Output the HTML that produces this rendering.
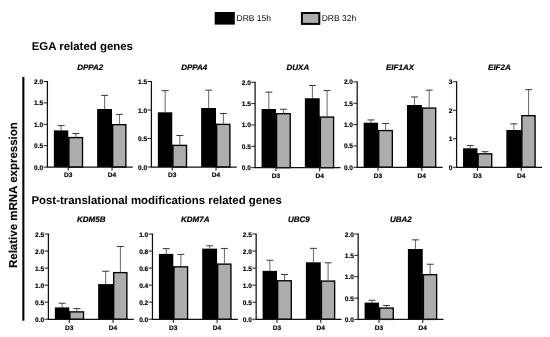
<!DOCTYPE html>
<html><head><meta charset="utf-8"><title>Relative mRNA expression</title>
<style>
html,body{margin:0;padding:0;background:#fff;}
body{width:550px;height:337px;overflow:hidden;font-family:"Liberation Sans",sans-serif;}
svg{display:block;font-family:"Liberation Sans",sans-serif;fill:#000;text-rendering:geometricPrecision;filter:grayscale(1);}
.b{stroke:#000;stroke-width:0.18px;}
.bi{stroke:#000;stroke-width:0.2px;}
.bt{stroke:#000;stroke-width:0.12px;}
</style></head>
<body>
<svg width="550" height="337" viewBox="0 0 550 337">
<!-- legend -->
<rect x="214.7" y="12.0" width="20.1" height="12.6" fill="#000"/>
<text x="236.5" y="20.95" font-size="8.5">DRB 15h</text>
<rect x="301.9" y="13.0" width="17.4" height="10.9" fill="#adadad" stroke="#000" stroke-width="2"/>
<text x="321.7" y="20.95" font-size="8.5">DRB 32h</text>
<!-- section titles -->
<text x="31.7" y="50.0" font-size="11.45" font-weight="bold">EGA related genes</text>
<text x="31.45" y="204.0" font-size="11.42" font-weight="bold">Post-translational modifications related genes</text>
<!-- y label -->
<rect x="22.3" y="77" width="2.1" height="243.7" fill="#000"/>
<text transform="translate(16.9 195.1) rotate(-90)" text-anchor="middle" font-size="11.5" font-weight="bold" class="bt">Relative mRNA expression</text>
<g>
<text x="90.2" y="69.85" text-anchor="middle" font-size="8.0" font-weight="bold" font-style="italic" class="bi">DPPA2</text>
<path d="M61.15 130.40V125.60" stroke="#555" stroke-width="0.9" fill="none"/>
<path d="M57.65 125.60H64.65" stroke="#2e2e2e" stroke-width="0.95" fill="none"/>
<path d="M75.82 136.90V133.55" stroke="#555" stroke-width="0.9" fill="none"/>
<path d="M72.32 133.55H79.32" stroke="#2e2e2e" stroke-width="0.95" fill="none"/>
<path d="M104.67 109.00V95.40" stroke="#555" stroke-width="0.9" fill="none"/>
<path d="M101.17 95.40H108.17" stroke="#2e2e2e" stroke-width="0.95" fill="none"/>
<path d="M119.38 124.00V114.35" stroke="#555" stroke-width="0.9" fill="none"/>
<path d="M115.88 114.35H122.88" stroke="#2e2e2e" stroke-width="0.95" fill="none"/>
<rect x="53.85" y="130.40" width="14.40" height="36.65" fill="#000"/>
<rect x="67.75" y="136.90" width="1.1" height="30.15" fill="#000"/>
<rect x="68.92" y="137.58" width="13.60" height="29.48" fill="#adadad" stroke="#000" stroke-width="1.35"/>
<rect x="97.15" y="109.00" width="14.85" height="58.05" fill="#000"/>
<rect x="111.50" y="124.00" width="1.1" height="43.05" fill="#000"/>
<rect x="112.67" y="124.67" width="13.20" height="42.38" fill="#adadad" stroke="#000" stroke-width="1.35"/>
<path d="M47.40 80.88V167.05M46.77 167.05H132.80" stroke="#111" stroke-width="1.25" fill="none"/>
<path d="M43.57 167.05H47.40" stroke="#111" stroke-width="0.95"/>
<text x="43.20" y="169.55" text-anchor="end" font-size="6.55" font-weight="bold" class="b">0.0</text>
<path d="M43.57 145.66H47.40" stroke="#111" stroke-width="0.95"/>
<text x="43.20" y="148.16" text-anchor="end" font-size="6.55" font-weight="bold" class="b">0.5</text>
<path d="M43.57 124.28H47.40" stroke="#111" stroke-width="0.95"/>
<text x="43.20" y="126.78" text-anchor="end" font-size="6.55" font-weight="bold" class="b">1.0</text>
<path d="M43.57 102.89H47.40" stroke="#111" stroke-width="0.95"/>
<text x="43.20" y="105.39" text-anchor="end" font-size="6.55" font-weight="bold" class="b">1.5</text>
<path d="M43.57 81.50H47.40" stroke="#111" stroke-width="0.95"/>
<text x="43.20" y="84.00" text-anchor="end" font-size="6.55" font-weight="bold" class="b">2.0</text>
<path d="M68.25 167.05V170.60" stroke="#111" stroke-width="1.0"/>
<text x="68.25" y="177.30" text-anchor="middle" font-size="6.55" font-weight="bold" class="b">D3</text>
<path d="M112.00 167.05V170.60" stroke="#111" stroke-width="1.0"/>
<text x="112.00" y="177.30" text-anchor="middle" font-size="6.55" font-weight="bold" class="b">D4</text>
</g>
<g>
<text x="194.2" y="69.75" text-anchor="middle" font-size="8.0" font-weight="bold" font-style="italic" class="bi">DPPA4</text>
<path d="M165.15 112.30V90.65" stroke="#555" stroke-width="0.9" fill="none"/>
<path d="M161.65 90.65H168.65" stroke="#2e2e2e" stroke-width="0.95" fill="none"/>
<path d="M179.82 144.70V135.50" stroke="#555" stroke-width="0.9" fill="none"/>
<path d="M176.32 135.50H183.32" stroke="#2e2e2e" stroke-width="0.95" fill="none"/>
<path d="M208.67 108.00V90.15" stroke="#555" stroke-width="0.9" fill="none"/>
<path d="M205.17 90.15H212.17" stroke="#2e2e2e" stroke-width="0.95" fill="none"/>
<path d="M223.38 123.70V113.55" stroke="#555" stroke-width="0.9" fill="none"/>
<path d="M219.88 113.55H226.88" stroke="#2e2e2e" stroke-width="0.95" fill="none"/>
<rect x="157.85" y="112.30" width="14.40" height="54.70" fill="#000"/>
<rect x="171.75" y="144.70" width="1.1" height="22.30" fill="#000"/>
<rect x="172.93" y="145.38" width="13.60" height="21.63" fill="#adadad" stroke="#000" stroke-width="1.35"/>
<rect x="201.15" y="108.00" width="14.85" height="59.00" fill="#000"/>
<rect x="215.50" y="123.70" width="1.1" height="43.30" fill="#000"/>
<rect x="216.68" y="124.38" width="13.20" height="42.62" fill="#adadad" stroke="#000" stroke-width="1.35"/>
<path d="M151.40 80.88V167.00M150.78 167.00H236.80" stroke="#111" stroke-width="1.25" fill="none"/>
<path d="M147.58 167.00H151.40" stroke="#111" stroke-width="0.95"/>
<text x="147.20" y="169.50" text-anchor="end" font-size="6.55" font-weight="bold" class="b">0.0</text>
<path d="M147.58 138.50H151.40" stroke="#111" stroke-width="0.95"/>
<text x="147.20" y="141.00" text-anchor="end" font-size="6.55" font-weight="bold" class="b">0.5</text>
<path d="M147.58 110.00H151.40" stroke="#111" stroke-width="0.95"/>
<text x="147.20" y="112.50" text-anchor="end" font-size="6.55" font-weight="bold" class="b">1.0</text>
<path d="M147.58 81.50H151.40" stroke="#111" stroke-width="0.95"/>
<text x="147.20" y="84.00" text-anchor="end" font-size="6.55" font-weight="bold" class="b">1.5</text>
<path d="M172.25 167.00V170.55" stroke="#111" stroke-width="1.0"/>
<text x="172.25" y="177.25" text-anchor="middle" font-size="6.55" font-weight="bold" class="b">D3</text>
<path d="M216.00 167.00V170.55" stroke="#111" stroke-width="1.0"/>
<text x="216.00" y="177.25" text-anchor="middle" font-size="6.55" font-weight="bold" class="b">D4</text>
</g>
<g>
<text x="297.9" y="69.75" text-anchor="middle" font-size="8.0" font-weight="bold" font-style="italic" class="bi">DUXA</text>
<path d="M268.85 109.00V92.10" stroke="#555" stroke-width="0.9" fill="none"/>
<path d="M265.35 92.10H272.35" stroke="#2e2e2e" stroke-width="0.95" fill="none"/>
<path d="M283.53 113.00V109.25" stroke="#555" stroke-width="0.9" fill="none"/>
<path d="M280.03 109.25H287.03" stroke="#2e2e2e" stroke-width="0.95" fill="none"/>
<path d="M312.38 98.25V85.50" stroke="#555" stroke-width="0.9" fill="none"/>
<path d="M308.88 85.50H315.88" stroke="#2e2e2e" stroke-width="0.95" fill="none"/>
<path d="M327.08 116.40V90.55" stroke="#555" stroke-width="0.9" fill="none"/>
<path d="M323.58 90.55H330.58" stroke="#2e2e2e" stroke-width="0.95" fill="none"/>
<rect x="261.55" y="109.00" width="14.40" height="58.65" fill="#000"/>
<rect x="275.45" y="113.00" width="1.1" height="54.65" fill="#000"/>
<rect x="276.62" y="113.67" width="13.60" height="53.98" fill="#adadad" stroke="#000" stroke-width="1.35"/>
<rect x="304.85" y="98.25" width="14.85" height="69.40" fill="#000"/>
<rect x="319.20" y="116.40" width="1.1" height="51.25" fill="#000"/>
<rect x="320.38" y="117.08" width="13.20" height="50.58" fill="#adadad" stroke="#000" stroke-width="1.35"/>
<path d="M255.10 81.67V167.65M254.47 167.65H340.50" stroke="#111" stroke-width="1.25" fill="none"/>
<path d="M251.28 167.65H255.10" stroke="#111" stroke-width="0.95"/>
<text x="250.90" y="170.15" text-anchor="end" font-size="6.55" font-weight="bold" class="b">0.0</text>
<path d="M251.28 146.31H255.10" stroke="#111" stroke-width="0.95"/>
<text x="250.90" y="148.81" text-anchor="end" font-size="6.55" font-weight="bold" class="b">0.5</text>
<path d="M251.28 124.97H255.10" stroke="#111" stroke-width="0.95"/>
<text x="250.90" y="127.47" text-anchor="end" font-size="6.55" font-weight="bold" class="b">1.0</text>
<path d="M251.28 103.64H255.10" stroke="#111" stroke-width="0.95"/>
<text x="250.90" y="106.14" text-anchor="end" font-size="6.55" font-weight="bold" class="b">1.5</text>
<path d="M251.28 82.30H255.10" stroke="#111" stroke-width="0.95"/>
<text x="250.90" y="84.80" text-anchor="end" font-size="6.55" font-weight="bold" class="b">2.0</text>
<path d="M275.95 167.65V171.20" stroke="#111" stroke-width="1.0"/>
<text x="275.95" y="177.90" text-anchor="middle" font-size="6.55" font-weight="bold" class="b">D3</text>
<path d="M319.70 167.65V171.20" stroke="#111" stroke-width="1.0"/>
<text x="319.70" y="177.90" text-anchor="middle" font-size="6.55" font-weight="bold" class="b">D4</text>
</g>
<g>
<text x="400.0" y="69.75" text-anchor="middle" font-size="8.0" font-weight="bold" font-style="italic" class="bi">EIF1AX</text>
<path d="M370.95 122.70V119.95" stroke="#555" stroke-width="0.9" fill="none"/>
<path d="M367.45 119.95H374.45" stroke="#2e2e2e" stroke-width="0.95" fill="none"/>
<path d="M385.62 129.90V123.55" stroke="#555" stroke-width="0.9" fill="none"/>
<path d="M382.12 123.55H389.12" stroke="#2e2e2e" stroke-width="0.95" fill="none"/>
<path d="M414.48 105.00V96.95" stroke="#555" stroke-width="0.9" fill="none"/>
<path d="M410.98 96.95H417.98" stroke="#2e2e2e" stroke-width="0.95" fill="none"/>
<path d="M429.18 107.40V90.15" stroke="#555" stroke-width="0.9" fill="none"/>
<path d="M425.68 90.15H432.68" stroke="#2e2e2e" stroke-width="0.95" fill="none"/>
<rect x="363.65" y="122.70" width="14.40" height="44.55" fill="#000"/>
<rect x="377.55" y="129.90" width="1.1" height="37.35" fill="#000"/>
<rect x="378.73" y="130.58" width="13.60" height="36.67" fill="#adadad" stroke="#000" stroke-width="1.35"/>
<rect x="406.95" y="105.00" width="14.85" height="62.25" fill="#000"/>
<rect x="421.30" y="107.40" width="1.1" height="59.85" fill="#000"/>
<rect x="422.47" y="108.08" width="13.20" height="59.17" fill="#adadad" stroke="#000" stroke-width="1.35"/>
<path d="M357.20 81.28V167.25M356.57 167.25H442.60" stroke="#111" stroke-width="1.25" fill="none"/>
<path d="M353.38 167.25H357.20" stroke="#111" stroke-width="0.95"/>
<text x="353.00" y="169.75" text-anchor="end" font-size="6.55" font-weight="bold" class="b">0.0</text>
<path d="M353.38 145.91H357.20" stroke="#111" stroke-width="0.95"/>
<text x="353.00" y="148.41" text-anchor="end" font-size="6.55" font-weight="bold" class="b">0.5</text>
<path d="M353.38 124.58H357.20" stroke="#111" stroke-width="0.95"/>
<text x="353.00" y="127.08" text-anchor="end" font-size="6.55" font-weight="bold" class="b">1.0</text>
<path d="M353.38 103.24H357.20" stroke="#111" stroke-width="0.95"/>
<text x="353.00" y="105.74" text-anchor="end" font-size="6.55" font-weight="bold" class="b">1.5</text>
<path d="M353.38 81.90H357.20" stroke="#111" stroke-width="0.95"/>
<text x="353.00" y="84.40" text-anchor="end" font-size="6.55" font-weight="bold" class="b">2.0</text>
<path d="M378.05 167.25V170.80" stroke="#111" stroke-width="1.0"/>
<text x="378.05" y="177.50" text-anchor="middle" font-size="6.55" font-weight="bold" class="b">D3</text>
<path d="M421.80 167.25V170.80" stroke="#111" stroke-width="1.0"/>
<text x="421.80" y="177.50" text-anchor="middle" font-size="6.55" font-weight="bold" class="b">D4</text>
</g>
<g>
<text x="499.4" y="69.75" text-anchor="middle" font-size="8.0" font-weight="bold" font-style="italic" class="bi">EIF2A</text>
<path d="M470.35 148.30V145.60" stroke="#555" stroke-width="0.9" fill="none"/>
<path d="M466.85 145.60H473.85" stroke="#2e2e2e" stroke-width="0.95" fill="none"/>
<path d="M485.03 153.15V151.70" stroke="#555" stroke-width="0.9" fill="none"/>
<path d="M481.53 151.70H488.53" stroke="#2e2e2e" stroke-width="0.95" fill="none"/>
<path d="M513.88 130.00V123.85" stroke="#555" stroke-width="0.9" fill="none"/>
<path d="M510.38 123.85H517.38" stroke="#2e2e2e" stroke-width="0.95" fill="none"/>
<path d="M528.58 115.00V89.65" stroke="#555" stroke-width="0.9" fill="none"/>
<path d="M525.08 89.65H532.08" stroke="#2e2e2e" stroke-width="0.95" fill="none"/>
<rect x="463.05" y="148.30" width="14.40" height="18.95" fill="#000"/>
<rect x="476.95" y="153.15" width="1.1" height="14.10" fill="#000"/>
<rect x="478.13" y="153.83" width="13.60" height="13.42" fill="#adadad" stroke="#000" stroke-width="1.35"/>
<rect x="506.35" y="130.00" width="14.85" height="37.25" fill="#000"/>
<rect x="520.70" y="130.00" width="1.1" height="37.25" fill="#000"/>
<rect x="521.88" y="115.67" width="13.20" height="51.58" fill="#adadad" stroke="#000" stroke-width="1.35"/>
<path d="M456.60 81.17V167.25M455.98 167.25H542.00" stroke="#111" stroke-width="1.25" fill="none"/>
<path d="M452.78 167.25H456.60" stroke="#111" stroke-width="0.95"/>
<text x="452.40" y="169.75" text-anchor="end" font-size="6.55" font-weight="bold" class="b">0</text>
<path d="M452.78 138.77H456.60" stroke="#111" stroke-width="0.95"/>
<text x="452.40" y="141.27" text-anchor="end" font-size="6.55" font-weight="bold" class="b">1</text>
<path d="M452.78 110.28H456.60" stroke="#111" stroke-width="0.95"/>
<text x="452.40" y="112.78" text-anchor="end" font-size="6.55" font-weight="bold" class="b">2</text>
<path d="M452.78 81.80H456.60" stroke="#111" stroke-width="0.95"/>
<text x="452.40" y="84.30" text-anchor="end" font-size="6.55" font-weight="bold" class="b">3</text>
<path d="M477.45 167.25V170.80" stroke="#111" stroke-width="1.0"/>
<text x="477.45" y="177.50" text-anchor="middle" font-size="6.55" font-weight="bold" class="b">D3</text>
<path d="M521.20 167.25V170.80" stroke="#111" stroke-width="1.0"/>
<text x="521.20" y="177.50" text-anchor="middle" font-size="6.55" font-weight="bold" class="b">D4</text>
</g>
<g>
<text x="91.2" y="222.15" text-anchor="middle" font-size="8.0" font-weight="bold" font-style="italic" class="bi">KDM5B</text>
<path d="M62.15 307.40V303.25" stroke="#555" stroke-width="0.9" fill="none"/>
<path d="M58.65 303.25H65.65" stroke="#2e2e2e" stroke-width="0.95" fill="none"/>
<path d="M76.82 311.20V308.60" stroke="#555" stroke-width="0.9" fill="none"/>
<path d="M73.32 308.60H80.32" stroke="#2e2e2e" stroke-width="0.95" fill="none"/>
<path d="M105.67 284.10V271.25" stroke="#555" stroke-width="0.9" fill="none"/>
<path d="M102.17 271.25H109.17" stroke="#2e2e2e" stroke-width="0.95" fill="none"/>
<path d="M120.38 271.95V246.50" stroke="#555" stroke-width="0.9" fill="none"/>
<path d="M116.88 246.50H123.88" stroke="#2e2e2e" stroke-width="0.95" fill="none"/>
<rect x="54.85" y="307.40" width="14.40" height="11.85" fill="#000"/>
<rect x="68.75" y="311.20" width="1.1" height="8.05" fill="#000"/>
<rect x="69.92" y="311.88" width="13.60" height="7.38" fill="#adadad" stroke="#000" stroke-width="1.35"/>
<rect x="98.15" y="284.10" width="14.85" height="35.15" fill="#000"/>
<rect x="112.50" y="284.10" width="1.1" height="35.15" fill="#000"/>
<rect x="113.67" y="272.62" width="13.20" height="46.63" fill="#adadad" stroke="#000" stroke-width="1.35"/>
<path d="M48.40 233.38V319.25M47.77 319.25H133.80" stroke="#111" stroke-width="1.25" fill="none"/>
<path d="M44.57 319.25H48.40" stroke="#111" stroke-width="0.95"/>
<text x="44.20" y="321.75" text-anchor="end" font-size="6.55" font-weight="bold" class="b">0.0</text>
<path d="M44.57 302.20H48.40" stroke="#111" stroke-width="0.95"/>
<text x="44.20" y="304.70" text-anchor="end" font-size="6.55" font-weight="bold" class="b">0.5</text>
<path d="M44.57 285.15H48.40" stroke="#111" stroke-width="0.95"/>
<text x="44.20" y="287.65" text-anchor="end" font-size="6.55" font-weight="bold" class="b">1.0</text>
<path d="M44.57 268.10H48.40" stroke="#111" stroke-width="0.95"/>
<text x="44.20" y="270.60" text-anchor="end" font-size="6.55" font-weight="bold" class="b">1.5</text>
<path d="M44.57 251.05H48.40" stroke="#111" stroke-width="0.95"/>
<text x="44.20" y="253.55" text-anchor="end" font-size="6.55" font-weight="bold" class="b">2.0</text>
<path d="M44.57 234.00H48.40" stroke="#111" stroke-width="0.95"/>
<text x="44.20" y="236.50" text-anchor="end" font-size="6.55" font-weight="bold" class="b">2.5</text>
<path d="M69.25 319.25V322.80" stroke="#111" stroke-width="1.0"/>
<text x="69.25" y="330.10" text-anchor="middle" font-size="6.55" font-weight="bold" class="b">D3</text>
<path d="M113.00 319.25V322.80" stroke="#111" stroke-width="1.0"/>
<text x="113.00" y="330.10" text-anchor="middle" font-size="6.55" font-weight="bold" class="b">D4</text>
</g>
<g>
<text x="195.2" y="222.15" text-anchor="middle" font-size="8.0" font-weight="bold" font-style="italic" class="bi">KDM7A</text>
<path d="M166.20 253.90V248.65" stroke="#555" stroke-width="0.9" fill="none"/>
<path d="M162.70 248.65H169.70" stroke="#2e2e2e" stroke-width="0.95" fill="none"/>
<path d="M180.87 266.15V254.45" stroke="#555" stroke-width="0.9" fill="none"/>
<path d="M177.37 254.45H184.37" stroke="#2e2e2e" stroke-width="0.95" fill="none"/>
<path d="M209.72 248.65V245.80" stroke="#555" stroke-width="0.9" fill="none"/>
<path d="M206.22 245.80H213.22" stroke="#2e2e2e" stroke-width="0.95" fill="none"/>
<path d="M224.42 263.45V248.45" stroke="#555" stroke-width="0.9" fill="none"/>
<path d="M220.92 248.45H227.92" stroke="#2e2e2e" stroke-width="0.95" fill="none"/>
<rect x="158.90" y="253.90" width="14.40" height="65.35" fill="#000"/>
<rect x="172.80" y="266.15" width="1.1" height="53.10" fill="#000"/>
<rect x="173.97" y="266.83" width="13.60" height="52.42" fill="#adadad" stroke="#000" stroke-width="1.35"/>
<rect x="202.20" y="248.65" width="14.85" height="70.60" fill="#000"/>
<rect x="216.55" y="263.45" width="1.1" height="55.80" fill="#000"/>
<rect x="217.72" y="264.12" width="13.20" height="55.13" fill="#adadad" stroke="#000" stroke-width="1.35"/>
<path d="M152.45 233.38V319.25M151.82 319.25H237.85" stroke="#111" stroke-width="1.25" fill="none"/>
<path d="M148.62 319.25H152.45" stroke="#111" stroke-width="0.95"/>
<text x="148.25" y="321.75" text-anchor="end" font-size="6.55" font-weight="bold" class="b">0.0</text>
<path d="M148.62 302.20H152.45" stroke="#111" stroke-width="0.95"/>
<text x="148.25" y="304.70" text-anchor="end" font-size="6.55" font-weight="bold" class="b">0.2</text>
<path d="M148.62 285.15H152.45" stroke="#111" stroke-width="0.95"/>
<text x="148.25" y="287.65" text-anchor="end" font-size="6.55" font-weight="bold" class="b">0.4</text>
<path d="M148.62 268.10H152.45" stroke="#111" stroke-width="0.95"/>
<text x="148.25" y="270.60" text-anchor="end" font-size="6.55" font-weight="bold" class="b">0.6</text>
<path d="M148.62 251.05H152.45" stroke="#111" stroke-width="0.95"/>
<text x="148.25" y="253.55" text-anchor="end" font-size="6.55" font-weight="bold" class="b">0.8</text>
<path d="M148.62 234.00H152.45" stroke="#111" stroke-width="0.95"/>
<text x="148.25" y="236.50" text-anchor="end" font-size="6.55" font-weight="bold" class="b">1.0</text>
<path d="M173.30 319.25V322.80" stroke="#111" stroke-width="1.0"/>
<text x="173.30" y="330.10" text-anchor="middle" font-size="6.55" font-weight="bold" class="b">D3</text>
<path d="M217.05 319.25V322.80" stroke="#111" stroke-width="1.0"/>
<text x="217.05" y="330.10" text-anchor="middle" font-size="6.55" font-weight="bold" class="b">D4</text>
</g>
<g>
<text x="298.9" y="222.15" text-anchor="middle" font-size="8.0" font-weight="bold" font-style="italic" class="bi">UBC9</text>
<path d="M269.90 270.85V260.25" stroke="#555" stroke-width="0.9" fill="none"/>
<path d="M266.40 260.25H273.40" stroke="#2e2e2e" stroke-width="0.95" fill="none"/>
<path d="M284.57 280.10V274.50" stroke="#555" stroke-width="0.9" fill="none"/>
<path d="M281.07 274.50H288.07" stroke="#2e2e2e" stroke-width="0.95" fill="none"/>
<path d="M313.43 262.30V248.35" stroke="#555" stroke-width="0.9" fill="none"/>
<path d="M309.93 248.35H316.93" stroke="#2e2e2e" stroke-width="0.95" fill="none"/>
<path d="M328.12 280.40V262.80" stroke="#555" stroke-width="0.9" fill="none"/>
<path d="M324.62 262.80H331.62" stroke="#2e2e2e" stroke-width="0.95" fill="none"/>
<rect x="262.60" y="270.85" width="14.40" height="48.40" fill="#000"/>
<rect x="276.50" y="280.10" width="1.1" height="39.15" fill="#000"/>
<rect x="277.68" y="280.77" width="13.60" height="38.48" fill="#adadad" stroke="#000" stroke-width="1.35"/>
<rect x="305.90" y="262.30" width="14.85" height="56.95" fill="#000"/>
<rect x="320.25" y="280.40" width="1.1" height="38.85" fill="#000"/>
<rect x="321.43" y="281.07" width="13.20" height="38.18" fill="#adadad" stroke="#000" stroke-width="1.35"/>
<path d="M256.15 233.38V319.25M255.52 319.25H341.55" stroke="#111" stroke-width="1.25" fill="none"/>
<path d="M252.32 319.25H256.15" stroke="#111" stroke-width="0.95"/>
<text x="251.95" y="321.75" text-anchor="end" font-size="6.55" font-weight="bold" class="b">0.0</text>
<path d="M252.32 302.20H256.15" stroke="#111" stroke-width="0.95"/>
<text x="251.95" y="304.70" text-anchor="end" font-size="6.55" font-weight="bold" class="b">0.5</text>
<path d="M252.32 285.15H256.15" stroke="#111" stroke-width="0.95"/>
<text x="251.95" y="287.65" text-anchor="end" font-size="6.55" font-weight="bold" class="b">1.0</text>
<path d="M252.32 268.10H256.15" stroke="#111" stroke-width="0.95"/>
<text x="251.95" y="270.60" text-anchor="end" font-size="6.55" font-weight="bold" class="b">1.5</text>
<path d="M252.32 251.05H256.15" stroke="#111" stroke-width="0.95"/>
<text x="251.95" y="253.55" text-anchor="end" font-size="6.55" font-weight="bold" class="b">2.0</text>
<path d="M252.32 234.00H256.15" stroke="#111" stroke-width="0.95"/>
<text x="251.95" y="236.50" text-anchor="end" font-size="6.55" font-weight="bold" class="b">2.5</text>
<path d="M277.00 319.25V322.80" stroke="#111" stroke-width="1.0"/>
<text x="277.00" y="330.10" text-anchor="middle" font-size="6.55" font-weight="bold" class="b">D3</text>
<path d="M320.75 319.25V322.80" stroke="#111" stroke-width="1.0"/>
<text x="320.75" y="330.10" text-anchor="middle" font-size="6.55" font-weight="bold" class="b">D4</text>
</g>
<g>
<text x="400.9" y="222.15" text-anchor="middle" font-size="8.0" font-weight="bold" font-style="italic" class="bi">UBA2</text>
<path d="M371.90 302.60V300.25" stroke="#555" stroke-width="0.9" fill="none"/>
<path d="M368.40 300.25H375.40" stroke="#2e2e2e" stroke-width="0.95" fill="none"/>
<path d="M386.57 307.40V305.50" stroke="#555" stroke-width="0.9" fill="none"/>
<path d="M383.07 305.50H390.07" stroke="#2e2e2e" stroke-width="0.95" fill="none"/>
<path d="M415.43 249.00V239.85" stroke="#555" stroke-width="0.9" fill="none"/>
<path d="M411.93 239.85H418.93" stroke="#2e2e2e" stroke-width="0.95" fill="none"/>
<path d="M430.12 274.00V264.25" stroke="#555" stroke-width="0.9" fill="none"/>
<path d="M426.62 264.25H433.62" stroke="#2e2e2e" stroke-width="0.95" fill="none"/>
<rect x="364.60" y="302.60" width="14.40" height="16.80" fill="#000"/>
<rect x="378.50" y="307.40" width="1.1" height="12.00" fill="#000"/>
<rect x="379.68" y="308.07" width="13.60" height="11.32" fill="#adadad" stroke="#000" stroke-width="1.35"/>
<rect x="407.90" y="249.00" width="14.85" height="70.40" fill="#000"/>
<rect x="422.25" y="274.00" width="1.1" height="45.40" fill="#000"/>
<rect x="423.43" y="274.68" width="13.20" height="44.72" fill="#adadad" stroke="#000" stroke-width="1.35"/>
<path d="M358.15 233.38V319.40M357.52 319.40H443.55" stroke="#111" stroke-width="1.25" fill="none"/>
<path d="M354.32 319.40H358.15" stroke="#111" stroke-width="0.95"/>
<text x="353.95" y="321.90" text-anchor="end" font-size="6.55" font-weight="bold" class="b">0.0</text>
<path d="M354.32 298.05H358.15" stroke="#111" stroke-width="0.95"/>
<text x="353.95" y="300.55" text-anchor="end" font-size="6.55" font-weight="bold" class="b">0.5</text>
<path d="M354.32 276.70H358.15" stroke="#111" stroke-width="0.95"/>
<text x="353.95" y="279.20" text-anchor="end" font-size="6.55" font-weight="bold" class="b">1.0</text>
<path d="M354.32 255.35H358.15" stroke="#111" stroke-width="0.95"/>
<text x="353.95" y="257.85" text-anchor="end" font-size="6.55" font-weight="bold" class="b">1.5</text>
<path d="M354.32 234.00H358.15" stroke="#111" stroke-width="0.95"/>
<text x="353.95" y="236.50" text-anchor="end" font-size="6.55" font-weight="bold" class="b">2.0</text>
<path d="M379.00 319.40V322.95" stroke="#111" stroke-width="1.0"/>
<text x="379.00" y="330.25" text-anchor="middle" font-size="6.55" font-weight="bold" class="b">D3</text>
<path d="M422.75 319.40V322.95" stroke="#111" stroke-width="1.0"/>
<text x="422.75" y="330.25" text-anchor="middle" font-size="6.55" font-weight="bold" class="b">D4</text>
</g>
</svg>
</body></html>
